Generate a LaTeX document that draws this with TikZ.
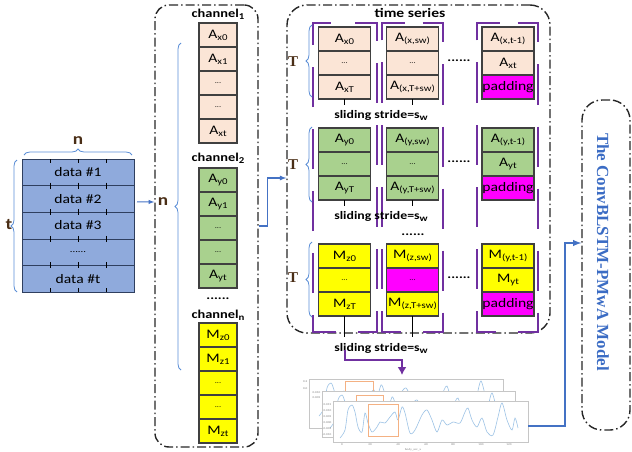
\documentclass[tikz,border=0pt]{standalone}
\usepackage{fontspec}
\setmainfont{Carlito}[FakeStretch=1.2]
\newfontfamily\titlefont{Liberation Serif}
\usepackage{xcolor}
\usetikzlibrary{positioning,decorations.pathreplacing,arrows.meta}

\definecolor{datablue}{HTML}{8FAADC}
\definecolor{databorder}{HTML}{2F3F5F}
\definecolor{peach}{HTML}{FBE5D6}
\definecolor{sgreen}{HTML}{A9D18E}
\definecolor{yel}{HTML}{FFFF00}
\definecolor{padpink}{HTML}{FF00FF}
\definecolor{braceblue}{HTML}{5B8ED6}
\definecolor{arrowblue}{HTML}{4472C4}
\definecolor{winpurple}{HTML}{7030A0}
\definecolor{modelblue}{HTML}{3B6CC4}
\definecolor{sigblue}{HTML}{9DC3E6}
\definecolor{plotorange}{HTML}{F4B183}
\definecolor{lblbrown}{HTML}{4A2E16}

\newcommand{\lowidx}[1]{\raisebox{-0.35ex}{\fontsize{9}{9}\selectfont #1}}
\newcommand{\celldots}{{\fontsize{7}{7}\selectfont ...}}
\newcommand{\accsignal}{plot[smooth] coordinates {(340,438) (345,430) (348,410) (352,405) (355,412) (358,427) (362,432) (365,413) (368,423) (372,432) (377,427) (380,422) (385,423) (390,417) (395,412) (398,420) (402,407) (405,413) (410,433) (415,430) (422,415) (427,410) (432,420) (437,432) (442,420) (447,425) (453,422) (460,423) (465,412) (468,408) (472,420) (477,427) (482,418) (487,432) (493,435) (498,417) (502,403) (507,420) (512,430) (515,418) (518,428)}}

\tikzset{
  datarow/.style={draw=databorder, fill=datablue, minimum width=112pt, minimum height=26.6pt, inner sep=0pt, outer sep=0pt, font=\fontsize{13}{13}\selectfont},
  datatick/.style={draw=black, line width=0.8pt},
  cell/.style={draw=black!75, line width=1.3pt, minimum width=38pt, minimum height=24pt, inner sep=0pt, outer sep=0pt, font=\fontsize{13}{13}\selectfont},
  wcell/.style={cell, minimum width=52pt},
  dashdot box/.style={draw=black!85, line width=1.4pt, rounded corners=14pt, dash pattern=on 9pt off 3pt on 1.5pt off 3pt},
  bluebrace/.style={draw=braceblue, line width=0.8pt, decorate, decoration={brace, amplitude=6pt}},
  window/.style={draw=winpurple, line width=1.8pt, dash pattern=on 40pt off 22pt, dash phase=52pt},
  lbl/.style={text=lblbrown, font=\bfseries\fontsize{16}{16}\selectfont},
  tlbl/.style={text=lblbrown, font=\titlefont\bfseries\fontsize{15}{15}\selectfont},
  chlabel/.style={font=\bfseries\fontsize{12}{12}\selectfont},
  stride/.style={font=\bfseries\fontsize{11.5}{12}\selectfont},
  dots/.style={font=\bfseries\fontsize{12}{12}\selectfont},
  panel/.style={draw=gray!45, fill=white, line width=0.5pt, inner sep=0pt},
  signal/.style={draw=sigblue, line width=0.6pt},
  zoomwin/.style={draw=plotorange, line width=0.8pt},
  ticklbl/.style={text=gray, font=\fontsize{2.8}{3}\selectfont, inner sep=0.5pt},
  barrow/.style={draw=arrowblue, line width=1.2pt, ->},
}

\begin{document}
\begin{tikzpicture}[x=1pt, y=-1pt, >=latex, every node/.style={font=\fontsize{12}{12}\selectfont}]
  \useasboundingbox (0,0) rectangle (632,452);

  % raw data block
  \node[datarow] (d1) at (78,172.3) {data \#1};
  \node[datarow, below=0pt of d1] (d2) {data \#2};
  \node[datarow, below=0pt of d2] (d3) {data \#3};
  \node[datarow, below=0pt of d3] (d4) {{\fontsize{9}{9}\selectfont ......}};
  \node[datarow, below=0pt of d4] (d5) {data \#t};
  \draw[datatick] (50,159)--(50,163) (78,159)--(78,163) (106,159)--(106,163);
  \draw[datatick] (50,182.6)--(50,188.6) (78,182.6)--(78,188.6) (106,182.6)--(106,188.6);
  \draw[datatick] (50,209.2)--(50,215.2) (78,209.2)--(78,215.2) (106,209.2)--(106,215.2);
  \draw[datatick] (50,235.8)--(50,241.8) (78,235.8)--(78,241.8) (106,235.8)--(106,241.8);
  \draw[datatick] (50,262.4)--(50,268.4) (78,262.4)--(78,268.4) (106,262.4)--(106,268.4);
  \draw[datatick] (50,288)--(50,292) (78,288)--(78,292) (106,288)--(106,292);
  \draw[bluebrace] (24,155) -- (132,155);
  \node[lbl] (ntop) at (78,141) {n};
  \draw[bluebrace] (17,292) -- (17,160);
  \node[lbl] (tleft) at (9,225) {t};

  % channels
  \node[dashdot box, minimum width=103pt, minimum height=442pt] (chbox) at (206.5,226) {};
  \node[lbl] (nch) at (163,202) {n};
  \draw[barrow, line width=1pt] ([xshift=3pt,yshift=-3pt]d2.east) -- (nch.west);
  \draw[bluebrace] (181,370) -- (181,43);
  \node[chlabel] (ch1) at (218,14) {channel\lowidx{1}};
  \node[cell, fill=peach] (c1a) at (218,35) {A\lowidx{x0}};
  \node[cell, fill=peach, below=0pt of c1a] (c1b) {A\lowidx{x1}};
  \node[cell, fill=peach, below=0pt of c1b] (c1c) {\celldots};
  \node[cell, fill=peach, below=0pt of c1c] (c1d) {\celldots};
  \node[cell, fill=peach, below=0pt of c1d] (c1e) {A\lowidx{xt}};
  \node[chlabel] (ch2) at (218,158) {channel\lowidx{2}};
  \node[cell, fill=sgreen] (c2a) at (218,180) {A\lowidx{y0}};
  \node[cell, fill=sgreen, below=0pt of c2a] (c2b) {A\lowidx{y1}};
  \node[cell, fill=sgreen, below=0pt of c2b] (c2c) {\celldots};
  \node[cell, fill=sgreen, below=0pt of c2c] (c2d) {\celldots};
  \node[cell, fill=sgreen, below=0pt of c2d] (c2e) {A\lowidx{yt}};
  \node[dots] (chdots) at (218,299) {......};
  \node[chlabel] (chn) at (218,315) {channel\lowidx{n}};
  \node[cell, fill=yel] (cna) at (218,335) {M\lowidx{z0}};
  \node[cell, fill=yel, below=0pt of cna] (cnb) {M\lowidx{z1}};
  \node[cell, fill=yel, below=0pt of cnb] (cnc) {\celldots};
  \node[cell, fill=yel, below=0pt of cnc] (cnd) {\celldots};
  \node[cell, fill=yel, below=0pt of cnd] (cne) {M\lowidx{zt}};

  % time series
  \node[dashdot box, rounded corners=20pt, minimum width=263pt, minimum height=328pt] (tsbox) at (418.5,169) {};
  \draw[barrow] (chbox.east) -- ++(9,0) |- ([yshift=-9pt]tsbox.west);
  \node[chlabel, font=\bfseries\fontsize{13}{13}\selectfont] (tstitle) at (410,13) {time series};
  \draw[window] (345,23) -- (377,23) -- (377,332) -- (313,332) -- (313,23) -- cycle;
  \draw[window] (412.5,23) -- (443,23) -- (443,332) -- (382,332) -- (382,23) -- cycle;
  \draw[window] (507.5,23) -- (538,23) -- (538,332) -- (477,332) -- (477,23) -- cycle;
  \draw[bluebrace] (312,97) -- (312,25);
  \node[tlbl] (T1) at (293,62) {T};
  \draw[bluebrace] (312,202) -- (312,127);
  \node[tlbl] (T2) at (293,165) {T};
  \draw[bluebrace] (312,317) -- (312,242);
  \node[tlbl] (T3) at (293,278) {T};

  \node[wcell, fill=peach] (x1a) at (344.5,39) {A\lowidx{x0}};
  \node[wcell, fill=peach, below=0pt of x1a] (x1b) {\celldots};
  \node[wcell, fill=peach, below=0pt of x1b] (x1c) {A\lowidx{xT}};
  \node[wcell, fill=peach] (x2a) at (412.5,39) {A\lowidx{(x,sw)}};
  \node[wcell, fill=peach, below=0pt of x2a] (x2b) {\celldots};
  \node[wcell, fill=peach, below=0pt of x2b] (x2c) {A\lowidx{(x,T+sw)}};
  \node[wcell, fill=peach] (x3a) at (508,39) {A\lowidx{(x,t-1)}};
  \node[wcell, fill=peach, below=0pt of x3a] (x3b) {A\lowidx{xt}};
  \node[wcell, fill=padpink, below=0pt of x3b] (x3c) {padding};
  \node[dots] (xdots) at (459,61) {......};
  \draw (x1c.south) -- ++(0,6);
  \draw (x2c.south) -- ++(0,6);
  \node[stride] (s1) at (381,115) {sliding stride=s\lowidx{w}};

  \node[wcell, fill=sgreen] (y1a) at (344.5,140) {A\lowidx{y0}};
  \node[wcell, fill=sgreen, below=0pt of y1a] (y1b) {\celldots};
  \node[wcell, fill=sgreen, below=0pt of y1b] (y1c) {A\lowidx{yT}};
  \node[wcell, fill=sgreen] (y2a) at (412.5,140) {A\lowidx{(y,sw)}};
  \node[wcell, fill=sgreen, below=0pt of y2a] (y2b) {\celldots};
  \node[wcell, fill=sgreen, below=0pt of y2b] (y2c) {A\lowidx{(y,T+sw)}};
  \node[wcell, fill=sgreen] (y3a) at (508,140) {A\lowidx{(y,t-1)}};
  \node[wcell, fill=sgreen, below=0pt of y3a] (y3b) {A\lowidx{yt}};
  \node[wcell, fill=padpink, below=0pt of y3b] (y3c) {padding};
  \node[dots] (ydots) at (459,162) {......};
  \draw (y1c.south) -- ++(0,6);
  \draw (y2c.south) -- ++(0,6);
  \node[stride] (s2) at (381,216) {sliding stride=s\lowidx{w}};
  \node[dots] (rowdots) at (413,235) {......};

  \node[wcell, fill=yel] (z1a) at (344.5,256) {M\lowidx{z0}};
  \node[wcell, fill=yel, below=0pt of z1a] (z1b) {\celldots};
  \node[wcell, fill=yel, below=0pt of z1b] (z1c) {M\lowidx{zT}};
  \node[wcell, fill=yel] (z2a) at (412.5,256) {M\lowidx{(z,sw)}};
  \node[wcell, fill=padpink, below=0pt of z2a] (z2b) {\celldots};
  \node[wcell, fill=yel, below=0pt of z2b] (z2c) {M\lowidx{(z,T+sw)}};
  \node[wcell, fill=yel] (z3a) at (508,256) {M\lowidx{(y,t-1)}};
  \node[wcell, fill=yel, below=0pt of z3a] (z3b) {M\lowidx{yt}};
  \node[wcell, fill=padpink, below=0pt of z3b] (z3c) {padding};
  \node[dots] (zdots) at (459,278) {......};
  \draw (z1c.south) -- ++(0,21);
  \draw (z2c.south) -- ++(0,21);
  \node[stride] (s3) at (381,348) {sliding stride=s\lowidx{w}};

  % plots
  \node[panel, minimum width=194pt, minimum height=49pt] (pa) at (406,403.5) {};
  \begin{scope}[shift={(-21,-22)}]
    \draw[signal] \accsignal;
  \end{scope}
  \draw[zoomwin] (345,381) rectangle (373,393);
  \node[panel, minimum width=193pt, minimum height=46pt] (pb) at (418.5,414) {};
  \begin{scope}[shift={(-10,-10)}]
    \draw[signal] \accsignal;
  \end{scope}
  \draw[zoomwin] (356,395) rectangle (383,410);
  \node[panel, minimum width=195pt, minimum height=41pt] (pc) at (430.5,421.5) {};
  \draw[signal] \accsignal;
  \draw[zoomwin] (368,404) rectangle (398,436);
  \foreach \v/\y in {0.2/382,0.0/389}
    \node[ticklbl, anchor=east] at (308,\y) {\v};
  \foreach \v/\y in {0.010/393,0.005/398}
    \node[ticklbl, anchor=east] at (321,\y) {\v};
  \foreach \v/\y in {0.015/405,0.010/411,0.005/417,0.000/423,-0.005/429,-0.010/435}
    \node[ticklbl, anchor=east] at (332,\y) {\v};
  \foreach \v/\x in {0/342,20/370,40/398,60/426,80/453,100/481,120/509}
    \node[ticklbl, anchor=north] at (\x,442.5) {\v};
  \node[ticklbl] (xname) at (413,449.5) {body\_acc\_x};
  \coordinate (pstart) at (345,350);
  \coordinate (ptip) at (402,375);
  \draw[draw=winpurple, line width=1.5pt, -{Latex[length=8pt,width=9pt]}] (pstart) -- ++(0,10) -| (ptip);

  % model
  \node[dashdot box, rounded corners=20pt, minimum width=48pt, minimum height=330pt] (model) at (606,265) {};
  \node[rotate=-90, text=modelblue, font=\titlefont\bfseries\fontsize{17}{17}\selectfont] (modeltxt) at (603,252) {The ConvBLSTM-PMwA Model};
  \coordinate (bend) at (565,243);
  \draw[barrow, line width=1.8pt] ([yshift=-4.5pt]pc.east) -| (bend) -- ([yshift=22pt]model.west);
\end{tikzpicture}
\end{document}
